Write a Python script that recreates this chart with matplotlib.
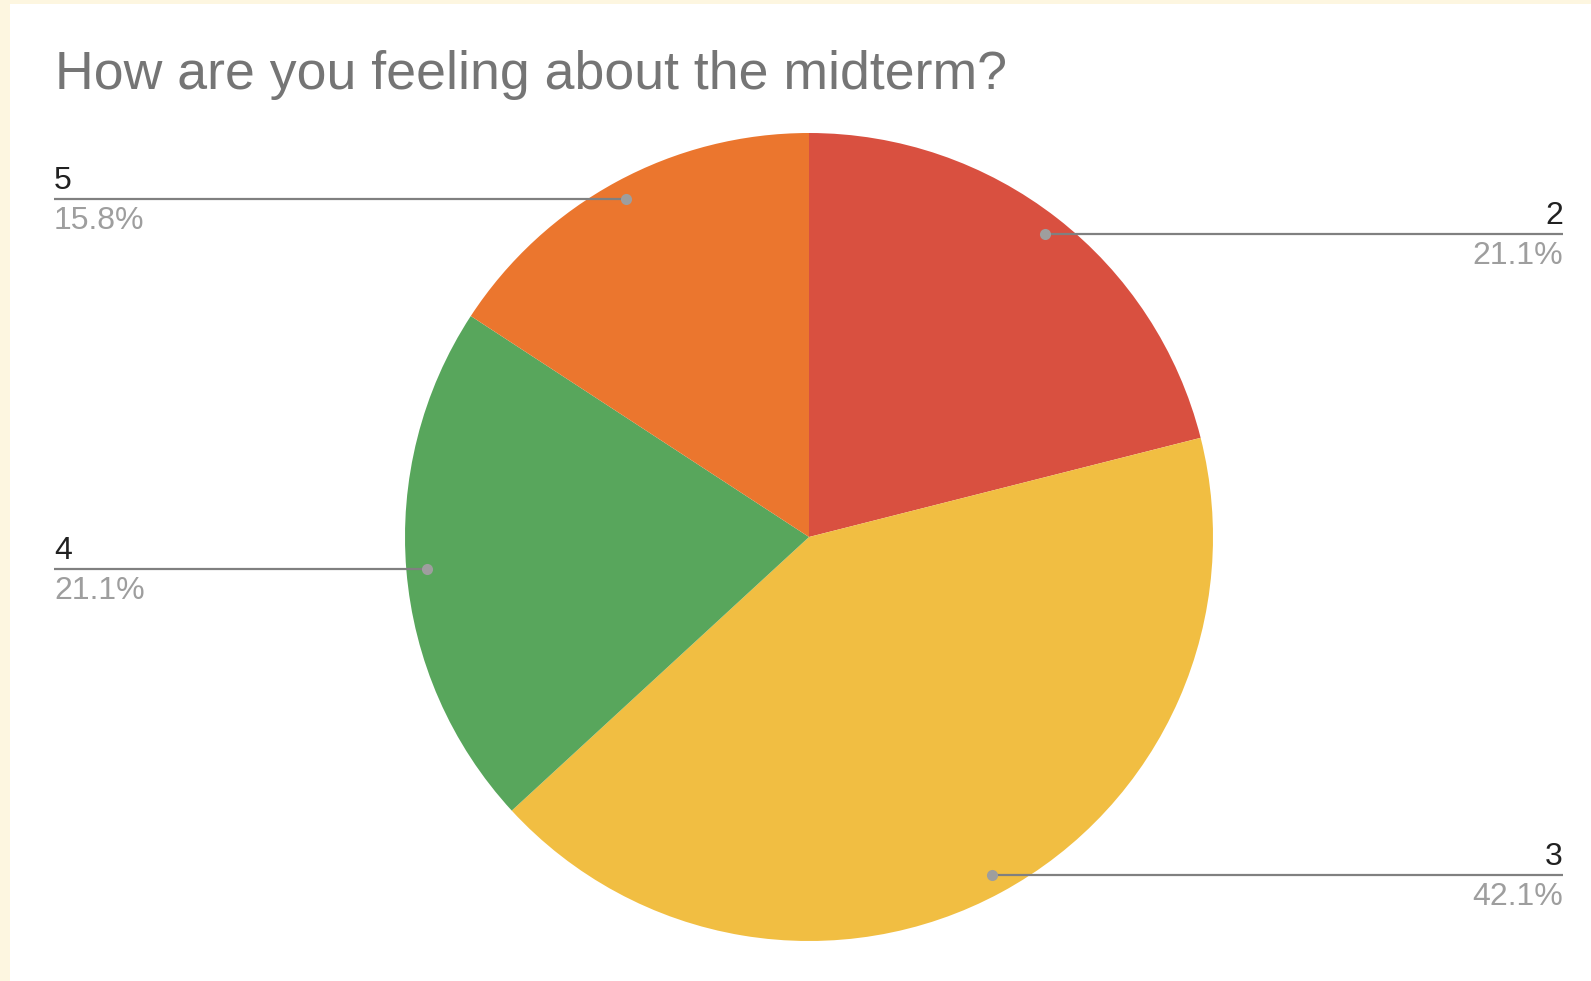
import numpy as np
import matplotlib.pyplot as plt
from matplotlib.patches import Rectangle

# Данные опроса
labels = ['2', '3', '4', '5']
counts = [4, 8, 4, 3]
percents = ['21.1%', '42.1%', '21.1%', '15.8%']
colors = ['#D95040', '#F1BE42', '#58A65C', '#EB762E']
title = 'How are you feeling about the midterm?'

W, H = 1591, 981
plt.rcParams['font.family'] = ['Liberation Sans', 'DejaVu Sans']

fig = plt.figure(figsize=(W / 100, H / 100), dpi=100, facecolor='#FDF6E0')
ax = fig.add_axes([0, 0, 1, 1])

# центр и радиус круга в пикселях (ось y вверх)
cx, cy, R = 809, H - 537, 404
wedges, _ = ax.pie(counts, colors=colors, startangle=90, counterclock=False,
                   center=(cx, cy), radius=R, frame=False)
ax.set_xlim(0, W)
ax.set_ylim(0, H)
ax.set_aspect('auto')
ax.axis('off')

# белая подложка с кремовой рамкой слева и сверху
ax.add_patch(Rectangle((10, 0), W - 10, H - 4, facecolor='white', edgecolor='none', zorder=0))

ax.text(55, H - 89, title, fontsize=38.6, color='#757575', va='baseline', ha='left')

# подписи с выносными линиями
for w, lab, pct in zip(wedges, labels, percents):
    ang = np.deg2rad((w.theta1 + w.theta2) / 2)
    px = cx + 0.95 * R * np.cos(ang)
    py = cy + 0.95 * R * np.sin(ang)
    if np.cos(ang) >= 0:
        xe, ha = 1563, 'right'
    else:
        xe, ha = 54, 'left'
    ax.plot([px, xe], [py, py], color='#808080', lw=1.6, solid_capstyle='butt', zorder=3)
    ax.plot(px, py, 'o', color='#9E9E9E', ms=8, mec='none', zorder=4)
    ax.text(xe, py + 18, lab, fontsize=23, color='#212121', ha=ha, va='center')
    ax.text(xe, py - 22, pct, fontsize=23, color='#9E9E9E', ha=ha, va='center')

fig.savefig('out.png', dpi=100, facecolor=fig.get_facecolor())
